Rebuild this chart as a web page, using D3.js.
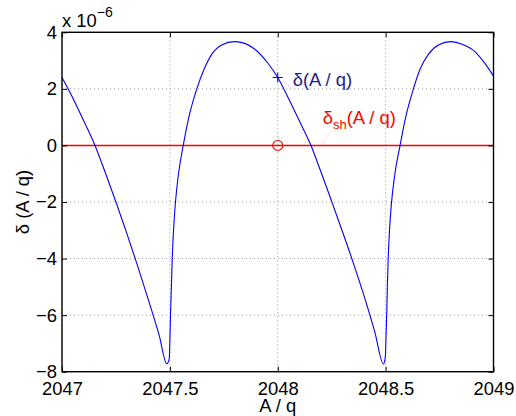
<!DOCTYPE html>
<html>
<head>
<meta charset="utf-8">
<script src="https://cdn.jsdelivr.net/npm/d3@7"></script>
<style>
  body { margin: 0; background: #fff; }
  svg { display: block; font-family: "Liberation Sans", Arial, sans-serif; }
</style>
</head>
<body>
<svg width="516" height="416"></svg>
<script>
// delta(A/q), in units of 1e-6
const deltaX = [
  2047.00, 2047.05, 2047.10, 2047.153, 2047.20, 2047.25, 2047.30, 2047.35, 2047.40, 2047.45,
  2047.486, 2047.497, 2047.501, 2047.503, 2047.507, 2047.511, 2047.517, 2047.526, 2047.54,
  2047.562, 2047.588, 2047.624, 2047.66, 2047.694, 2047.74, 2047.80, 2047.85, 2047.894, 2047.95,
  2048.00, 2048.05, 2048.10, 2048.154, 2048.20, 2048.25, 2048.30, 2048.35, 2048.40, 2048.45,
  2048.49, 2048.499, 2048.502, 2048.505, 2048.508, 2048.512, 2048.518, 2048.527, 2048.543,
  2048.567, 2048.593, 2048.628, 2048.66, 2048.698, 2048.745, 2048.803, 2048.855, 2048.914, 2048.96,
  2049.00
];
const deltaY = [
  2.40, 1.68, 0.88, 0.00, -0.95, -2.00, -3.10, -4.25, -5.45, -6.70,
  -7.72, -7.55, -6.60, -5.98, -5.00, -3.98, -3.00, -2.00, -1.00,
  0.00, 1.00, 1.98, 2.72, 3.22, 3.55, 3.67, 3.60, 3.40, 2.95,
  2.40, 1.66, 0.87, 0.00, -0.93, -1.98, -3.05, -4.15, -5.32, -6.60,
  -7.73, -7.45, -6.70, -5.98, -5.00, -3.98, -3.00, -2.05, -1.00,
  0.00, 1.00, 1.98, 2.70, 3.22, 3.55, 3.67, 3.58, 3.32, 2.90,
  2.45
];

// delta_sh(A/q), flat at zero
const shiftX = [2047, 2047.5, 2048, 2048.5, 2049];
const shiftY = [0, 0, 0, 0, 0];

// labelled points
const markerX = 2048;
const markerDeltaY = 2.40;
const markerShiftY = 0;

const xTicks = [2047, 2047.5, 2048, 2048.5, 2049];
const yTicks = [-8, -6, -4, -2, 0, 2, 4];

// Layout
const plotLeft = 62, plotRight = 493.5, plotTop = 32.3, plotBottom = 371.7;
const fontSize = 18.4;

const xScale = d3.scaleLinear().domain([2047, 2049]).range([plotLeft, plotRight]);
const yScale = d3.scaleLinear().domain([-8, 4]).range([plotBottom, plotTop]);

const svg = d3.select("svg");

const fmtY = d => (d < 0 ? "\u2212" + Math.abs(d) : String(d));
const fmtX = d => (d % 1 === 0 ? String(d) : d.toFixed(1));

// Grid (dotted, MATLAB style)
const grid = svg.append("g").attr("stroke", "#9a9a9a").attr("stroke-width", 1)
  .attr("stroke-dasharray", "1,3");
grid.selectAll("line.gx").data(xTicks).enter().append("line")
  .attr("x1", d => xScale(d)).attr("x2", d => xScale(d))
  .attr("y1", plotTop).attr("y2", plotBottom);
grid.selectAll("line.gy").data(yTicks).enter().append("line")
  .attr("x1", plotLeft).attr("x2", plotRight)
  .attr("y1", d => yScale(d)).attr("y2", d => yScale(d));

// Series
const line = d3.line()
  .x(p => xScale(p.x))
  .y(p => yScale(p.y))
  .curve(d3.curveMonotoneX);

svg.append("path")
  .attr("d", line(shiftX.map((x, i) => ({x: x, y: shiftY[i]}))))
  .attr("fill", "none").attr("stroke", "#ff0000").attr("stroke-width", 1.4);

svg.append("path")
  .attr("d", line(deltaX.map((x, i) => ({x: x, y: deltaY[i]}))))
  .attr("fill", "none").attr("stroke", "#0000ff").attr("stroke-width", 1.1);

// Axes: ticks pointing inward on all four sides
const gB = svg.append("g").attr("transform", "translate(0," + plotBottom + ")")
  .call(d3.axisBottom(xScale).tickValues(xTicks).tickSize(-5).tickPadding(10).tickFormat(fmtX));
const gT = svg.append("g").attr("transform", "translate(0," + plotTop + ")")
  .call(d3.axisTop(xScale).tickValues(xTicks).tickSize(-5).tickFormat(""));
const gL = svg.append("g").attr("transform", "translate(" + plotLeft + ",0)")
  .call(d3.axisLeft(yScale).tickValues(yTicks).tickSize(-5).tickPadding(5).tickFormat(fmtY));
const gR = svg.append("g").attr("transform", "translate(" + plotRight + ",0)")
  .call(d3.axisRight(yScale).tickValues(yTicks).tickSize(-5).tickFormat(""));

[gB, gT, gL, gR].forEach(g => {
  g.select(".domain").remove();
  g.attr("font-family", null).attr("font-size", null);
  g.selectAll("line").attr("stroke", "#000").attr("stroke-width", 1);
  g.selectAll("text").attr("font-size", fontSize).attr("fill", "#000");
});

// Box
svg.append("rect")
  .attr("x", plotLeft).attr("y", plotTop)
  .attr("width", plotRight - plotLeft).attr("height", plotBottom - plotTop)
  .attr("fill", "none").attr("stroke", "#000").attr("stroke-width", 1.4);

// Exponent note
const expo = svg.append("text").attr("x", plotLeft).attr("y", 27)
  .attr("font-size", fontSize).attr("fill", "#000");
expo.append("tspan").text("x 10");
expo.append("tspan").attr("dy", -10).attr("font-size", 14).text("\u22126");

// Axis titles
svg.append("text")
  .attr("x", (plotLeft + plotRight) / 2).attr("y", 412)
  .attr("text-anchor", "middle").attr("font-size", fontSize).attr("fill", "#000")
  .text("A / q");

svg.append("text")
  .attr("transform", "translate(29," + ((plotTop + plotBottom) / 2) + ") rotate(-90)")
  .attr("text-anchor", "middle").attr("font-size", fontSize).attr("fill", "#000")
  .text("\u03b4 (A / q)");

// Markers
const mx = xScale(markerX);
const myD = yScale(markerDeltaY);
const myS = yScale(markerShiftY);

svg.append("path")
  .attr("d", "M" + (mx - 5) + "," + myD + "H" + (mx + 5) + "M" + mx + "," + (myD - 5) + "V" + (myD + 5))
  .attr("stroke", "#0000ff").attr("stroke-width", 1.1).attr("fill", "none");

svg.append("circle")
  .attr("cx", mx).attr("cy", myS).attr("r", 5)
  .attr("fill", "none").attr("stroke", "#ff0000").attr("stroke-width", 1.1);

// Faint connectors from labels to markers
svg.append("line")
  .attr("x1", mx + 6).attr("y1", myD + 4).attr("x2", mx + 15).attr("y2", myD + 12)
  .attr("stroke", "#8080ff").attr("stroke-width", 1).attr("stroke-dasharray", "1,2").attr("opacity", 0.6);
svg.append("line")
  .attr("x1", mx + 45).attr("y1", myS - 2).attr("x2", mx + 53).attr("y2", myS - 14)
  .attr("stroke", "#ff8080").attr("stroke-width", 1).attr("stroke-dasharray", "1,2").attr("opacity", 0.6);

// Labels
svg.append("text")
  .attr("x", mx + 15).attr("y", myD + 8)
  .attr("font-size", fontSize).attr("fill", "#1c1c8e")
  .text("\u03b4(A / q)");

const shLabel = svg.append("text")
  .attr("x", mx + 45).attr("y", myS - 21)
  .attr("font-size", fontSize).attr("fill", "#ff0000");
shLabel.append("tspan").text("\u03b4");
shLabel.append("tspan").attr("dy", 5).attr("font-size", 13).text("sh");
shLabel.append("tspan").attr("dy", -5).text("(A / q)");
</script>
</body>
</html>
